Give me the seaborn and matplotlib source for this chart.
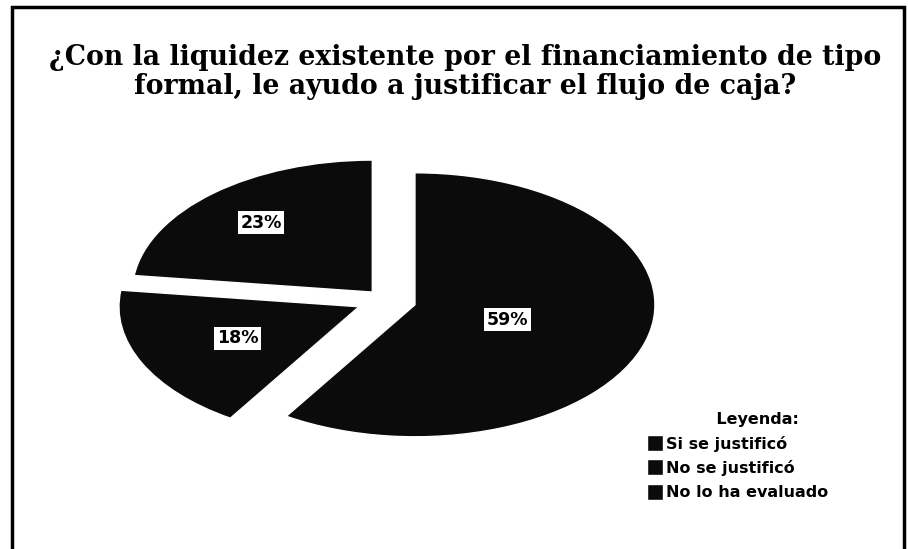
import matplotlib
matplotlib.use("Agg")
import matplotlib.pyplot as plt
import seaborn as sns
import numpy as np
from matplotlib.patches import Rectangle

# ---- data ----
categories = ["Si se justificó", "No se justificó", "No lo ha evaluado"]
values = [59, 18, 23]
pct_labels = ["59%", "18%", "23%"]
title_text = "¿Con la liquidez existente por el financiamiento de tipo\nformal, le ayudo a justificar el flujo de caja?"
legend_title = "Leyenda:"

sns.set_theme(style="white")
plt.rcParams["font.family"] = ["DejaVu Sans"]
plt.rcParams["text.color"] = "black"

W, H = 908, 549
fig = plt.figure(figsize=(W / 100, H / 100), dpi=100)
fig.patch.set_facecolor("white")

# pie geometry in pixels (centre, radii)
cx, cy, rx, ry = 385, 300, 240, 132
ax = fig.add_axes([0, 0, 1, 1])
colors = sns.color_palette(["#0b0b0b", "#0b0b0b", "#0b0b0b"])
wedges, texts = ax.pie(
    values,
    startangle=90,
    counterclock=False,
    colors=colors,
    explode=[0.13, 0.12, 0.08],
    wedgeprops=dict(edgecolor="white", linewidth=1.0),
)
ax.set_aspect("auto")
ax.set_xlim(-cx / rx, (W - cx) / rx)
ax.set_ylim((cy - H) / ry, cy / ry)
ax.axis("off")

# percentage labels in white boxes
label_dist = [0.40, 0.56, 0.70]
for w, lab, d in zip(wedges, pct_labels, label_dist):
    ang = np.deg2rad((w.theta1 + w.theta2) / 2)
    x0, y0 = w.center
    ax.text(x0 + d * np.cos(ang), y0 + d * np.sin(ang), lab,
            ha="center", va="center", fontsize=12.5, fontweight="bold",
            color="black",
            bbox=dict(boxstyle="square,pad=0.15", facecolor="white", edgecolor="none"))

# title
fig.text(465 / W, 1 - 72 / H, title_text, ha="center", va="center",
         fontsize=19.3, fontweight="bold", family="DejaVu Serif",
         linespacing=1.12, color="black")

# legend
leg = fig.legend(wedges, categories, title="       " + legend_title, loc="upper left",
                 bbox_to_anchor=(636 / W, 1 - 401 / H), frameon=False,
                 fontsize=11.5, title_fontsize=11.5, handlelength=1.0,
                 handleheight=1.15, handletextpad=0.2, labelspacing=0.5,
                 borderpad=0.2)
leg.get_title().set_fontweight("bold")
for t in leg.get_texts():
    t.set_fontweight("bold")
    t.set_color("black")

# outer frame
fig.patches.append(Rectangle((12 / W, -0.05), (904 - 12) / W, (1 - 7 / H) + 0.05,
                             transform=fig.transFigure, fill=False,
                             edgecolor="black", linewidth=2.5))

fig.savefig("out.png", dpi=100)
